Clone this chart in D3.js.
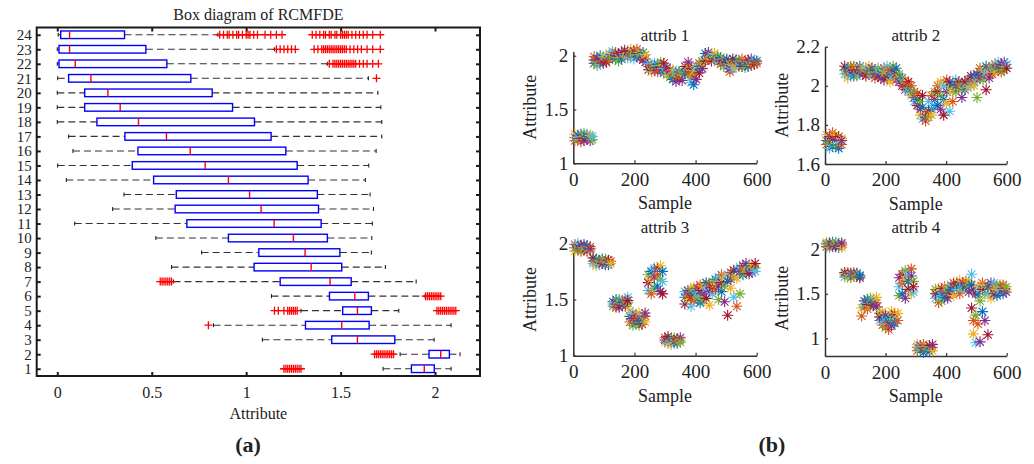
<!DOCTYPE html>
<html>
<head>
<meta charset="utf-8">
<script src="https://cdn.jsdelivr.net/npm/d3@7/dist/d3.min.js"></script>
<style>
    body { margin: 0; background: #fff; }
    svg text { font-family: "Liberation Serif", "Times New Roman", serif; fill: #222; }
</style>
</head>
<body>
<div id="chart"></div>
<script>
// ---------- (a) box diagram data, rows 1..24 ----------
const rowLabels = d3.range(1, 25);
const whiskerLow = [1.725, 1.815, 1.086, 0.827, 1.29, 1.134, 0.615, 0.605, 0.764, 0.522, 0.092, 0.293,
                    0.353, 0.048, 0.002, 0.083, 0.06, 0.0, 0.0, 0.0, 0.002, 0.0, 0.0, 0.005];
const quart1 = [1.875, 1.968, 1.453, 1.314, 1.511, 1.441, 1.18, 1.042, 1.067, 0.906, 0.686, 0.624,
                0.63, 0.51, 0.397, 0.427, 0.358, 0.21, 0.145, 0.145, 0.06, 0.009, 0.009, 0.018];
const medians = [1.943, 2.03, 1.589, 1.506, 1.589, 1.575, 1.444, 1.344, 1.312, 1.25, 1.148, 1.079,
                 1.018, 0.906, 0.783, 0.704, 0.578, 0.43, 0.333, 0.268, 0.178, 0.095, 0.065, 0.065];
const quart3 = [1.996, 2.076, 1.787, 1.651, 1.663, 1.647, 1.556, 1.506, 1.496, 1.43, 1.397, 1.383,
                1.377, 1.328, 1.27, 1.21, 1.132, 1.044, 0.928, 0.82, 0.707, 0.58, 0.469, 0.356];
const whiskerHigh = [2.085, 2.132, 1.995, 2.085, 1.808, 1.947, 1.9, 1.737, 1.663, 1.665, 1.668, 1.674,
                     1.656, 1.631, 1.649, 1.688, 1.718, 1.718, 1.713, 1.697, 1.647, 1.43, 1.15, 0.85];
const outliers = [
    [1.2, 1.21, 1.22, 1.23, 1.24, 1.25, 1.26, 1.27, 1.28, 1.29],
    [1.68, 1.69, 1.7, 1.71, 1.72, 1.73, 1.74, 1.75, 1.76, 1.77, 1.78],
    [],
    [0.8],
    [1.15, 1.17, 1.2, 1.22, 1.23, 1.24, 1.25, 1.26, 1.27, 2.01, 2.02, 2.03, 2.04, 2.05, 2.06, 2.07, 2.08, 2.09, 2.1, 2.11],
    [1.95, 1.96, 1.97, 1.98, 1.99, 2.0, 2.01, 2.02, 2.03],
    [0.545, 0.555, 0.565, 0.575, 0.585, 0.595, 0.605],
    [], [], [], [], [], [], [], [], [], [], [], [], [],
    [1.69],
    [1.44, 1.46, 1.47, 1.48, 1.49, 1.5, 1.51, 1.52, 1.53, 1.54, 1.55, 1.56, 1.57, 1.58, 1.6, 1.62, 1.64, 1.67, 1.7],
    [1.16, 1.18, 1.2, 1.22, 1.24, 1.26, 1.36, 1.38, 1.4, 1.41, 1.42, 1.43, 1.44, 1.45, 1.46, 1.47, 1.48, 1.49,
     1.5, 1.51, 1.52, 1.53, 1.55, 1.57, 1.59, 1.61, 1.64, 1.67, 1.71],
    [0.86, 0.88, 0.9, 0.91, 0.93, 0.95, 0.96, 0.98, 1.0, 1.01, 1.02, 1.04, 1.06, 1.1, 1.13, 1.16, 1.19,
     1.35, 1.37, 1.39, 1.41, 1.42, 1.44, 1.45, 1.47, 1.48, 1.5, 1.51, 1.52, 1.53, 1.54, 1.56, 1.58, 1.6,
     1.62, 1.64, 1.67, 1.71]
];
const boxXTicks = [0, 0.5, 1, 1.5, 2];

// ---------- (b) attribute scatter data: [sample, value, value, ...] ----------
const attrib1Pts = [
    [5, 1.24, 1.21, 1.27], [15, 1.26, 1.22, 1.24], [25, 1.23, 1.27, 1.2], [35, 1.25, 1.21, 1.28], [45, 1.27, 1.23, 1.25],
    [55, 1.24, 1.26, 1.21], [62, 1.22, 1.25],
    [68, 1.96, 1.93, 1.99], [78, 1.94, 1.97, 1.91], [88, 1.92, 1.96, 2.0], [98, 1.95, 1.99, 1.93], [108, 1.97, 2.0, 1.94],
    [118, 1.99, 1.96, 2.02], [128, 2.01, 1.98, 2.04], [138, 2.0, 1.97, 2.03], [148, 1.98, 2.02, 1.95], [158, 2.0, 2.03, 1.97],
    [168, 1.99, 2.02, 2.05], [178, 2.01, 1.98, 2.04], [188, 2.03, 2.0, 2.06], [198, 2.04, 2.01, 1.97], [208, 2.02, 1.99, 2.06],
    [218, 2.03, 1.98, 2.01], [228, 2.0, 1.96, 2.03], [236, 1.97, 2.01, 1.94],
    [246, 1.9, 1.93, 1.87], [256, 1.88, 1.91, 1.85], [266, 1.86, 1.9, 1.93], [276, 1.89, 1.92, 1.85], [286, 1.91, 1.87, 1.94],
    [296, 1.88, 1.93, 1.84], [306, 1.85, 1.82, 1.89], [316, 1.8, 1.84, 1.87], [326, 1.78, 1.83, 1.87], [336, 1.76, 1.81, 1.85],
    [346, 1.79, 1.85, 1.82], [356, 1.82, 1.77, 1.86], [366, 1.87, 1.9, 1.83], [376, 1.84, 1.91, 1.94], [386, 1.8, 1.75, 1.88],
    [394, 1.73, 1.82, 1.86], [402, 1.78, 1.86, 1.9], [412, 1.84, 1.9, 1.93], [422, 1.92, 1.88, 1.95], [432, 1.99, 1.95, 2.02],
    [442, 2.01, 1.97, 2.03], [452, 1.98, 2.0, 1.95], [462, 2.0, 1.96, 2.02], [472, 1.97, 1.99, 1.94], [482, 1.95, 1.98, 1.92],
    [492, 1.97, 1.93, 1.9], [502, 1.9, 1.94, 1.97], [512, 1.85, 1.92, 1.88], [522, 1.94, 1.88, 1.97], [532, 1.96, 1.92, 1.89],
    [542, 1.93, 1.95, 1.9], [552, 1.9, 1.94, 1.97], [562, 1.95, 1.92, 1.89], [572, 1.93, 1.96, 1.9], [582, 1.91, 1.94, 1.97],
    [592, 1.94, 1.96, 1.92], [600, 1.95, 1.93]
];
const attrib2Pts = [
    [5, 1.72, 1.7, 1.75], [15, 1.74, 1.71, 1.68], [25, 1.73, 1.69, 1.76], [35, 1.75, 1.72, 1.69], [45, 1.71, 1.74, 1.68],
    [55, 1.7, 1.73, 1.72],
    [65, 2.08, 2.06, 2.1], [75, 2.09, 2.06, 2.04], [85, 2.07, 2.1, 2.05], [95, 2.08, 2.05, 2.1], [105, 2.09, 2.07, 2.05],
    [115, 2.06, 2.08, 2.1], [125, 2.08, 2.09, 2.06], [135, 2.07, 2.09, 2.05], [145, 2.08, 2.06, 2.1], [155, 2.09, 2.07, 2.05],
    [165, 2.06, 2.08, 2.04], [175, 2.07, 2.05, 2.09], [185, 2.08, 2.04, 2.06], [195, 2.09, 2.06, 2.03], [205, 2.07, 2.1, 2.04],
    [215, 2.05, 2.08, 2.02], [225, 2.08, 2.1, 2.05], [235, 2.06, 2.09, 2.03],
    [245, 2.04, 2.02, 2.06], [255, 2.02, 2.0, 2.04], [265, 2.0, 2.03, 1.98], [275, 1.99, 1.97, 2.02], [285, 1.97, 2.0, 1.95],
    [295, 1.94, 1.97, 1.92], [305, 1.9, 1.93, 1.96], [315, 1.85, 1.88, 1.92], [322, 1.83, 1.95, 1.89], [332, 1.82, 1.86, 1.84],
    [342, 1.84, 1.92, 1.87], [352, 1.88, 1.95, 1.85], [362, 1.93, 1.97, 1.9], [372, 1.97, 1.9, 2.0], [382, 2.02, 1.88, 1.95],
    [392, 2.0, 1.85, 1.93], [402, 2.03, 1.91, 1.97], [412, 1.99, 1.87, 2.02], [422, 2.01, 1.92, 1.97], [432, 2.0, 1.97, 2.03],
    [442, 2.02, 1.99, 2.0], [452, 1.98, 1.94, 2.01], [462, 2.0, 2.02, 1.98], [472, 2.01, 1.99, 2.03], [482, 2.03, 2.0, 2.05],
    [492, 2.05, 2.02, 2.0], [502, 2.06, 1.94, 2.03], [512, 2.04, 2.07, 2.09], [522, 2.08, 2.05, 2.03], [532, 2.07, 1.98, 2.1],
    [542, 2.09, 2.06, 2.04], [552, 2.1, 2.08, 2.06], [562, 2.09, 2.11, 2.07], [572, 2.1, 2.08, 2.12], [582, 2.11, 2.09, 2.07],
    [592, 2.1, 2.12, 2.08], [600, 2.11, 2.09]
];
const attrib3Pts = [
    [5, 1.96, 1.99, 1.93], [15, 1.97, 1.94, 2.0], [25, 1.98, 1.95, 1.93], [35, 1.96, 1.99, 1.94], [45, 1.95, 1.93, 1.98],
    [55, 1.97, 1.93, 1.95],
    [65, 1.84, 1.82, 1.87], [75, 1.86, 1.83, 1.8], [85, 1.83, 1.85, 1.81], [95, 1.82, 1.86, 1.84], [105, 1.84, 1.81, 1.86],
    [115, 1.83, 1.85, 1.81], [122, 1.84, 1.82],
    [130, 1.48, 1.44, 1.46], [140, 1.46, 1.5, 1.43], [150, 1.47, 1.43, 1.5], [160, 1.49, 1.45, 1.47], [170, 1.5, 1.46, 1.44],
    [178, 1.47, 1.52, 1.49],
    [185, 1.35, 1.3, 1.4], [195, 1.33, 1.27, 1.38], [205, 1.36, 1.29, 1.32], [215, 1.38, 1.31, 1.27], [225, 1.34, 1.28, 1.31],
    [235, 1.35, 1.3, 1.38],
    [245, 1.72, 1.58, 1.65], [255, 1.75, 1.55, 1.68], [265, 1.7, 1.6, 1.78], [275, 1.78, 1.62, 1.72], [285, 1.8, 1.57, 1.68],
    [292, 1.66, 1.55, 1.75],
    [300, 1.16, 1.12, 1.14], [310, 1.14, 1.11, 1.17], [320, 1.15, 1.12, 1.1], [330, 1.13, 1.16, 1.11], [340, 1.15, 1.11, 1.13],
    [350, 1.14, 1.16, 1.12],
    [365, 1.57, 1.46, 1.52], [375, 1.54, 1.5, 1.58], [385, 1.59, 1.44, 1.52], [395, 1.56, 1.49, 1.61], [405, 1.6, 1.52, 1.56],
    [415, 1.58, 1.47, 1.63], [425, 1.62, 1.55, 1.5], [435, 1.6, 1.51, 1.65], [445, 1.64, 1.45, 1.57], [455, 1.66, 1.55, 1.61],
    [465, 1.68, 1.59, 1.64], [475, 1.62, 1.5, 1.7], [485, 1.65, 1.57, 1.72], [495, 1.7, 1.48, 1.62], [505, 1.72, 1.36, 1.66],
    [515, 1.74, 1.6, 1.68], [525, 1.7, 1.52, 1.76], [535, 1.76, 1.44, 1.69], [545, 1.75, 1.55, 1.79], [555, 1.8, 1.72, 1.76],
    [565, 1.78, 1.82, 1.74], [575, 1.76, 1.73, 1.8], [585, 1.79, 1.81, 1.74], [595, 1.78, 1.75, 1.82]
];
const attrib4Pts = [
    [5, 2.06, 2.03, 2.08], [15, 2.07, 2.04, 2.02], [25, 2.05, 2.08, 2.03], [35, 2.06, 2.03, 2.08], [45, 2.07, 2.04, 2.02],
    [55, 2.05, 2.02, 2.07],
    [65, 1.72, 1.69, 1.74], [75, 1.71, 1.74, 1.68], [85, 1.73, 1.68, 1.71], [95, 1.7, 1.72, 1.74], [105, 1.69, 1.73, 1.71],
    [115, 1.71, 1.68, 1.7],
    [121, 1.25, 1.34], [130, 1.42, 1.35, 1.38], [140, 1.38, 1.44, 1.33], [150, 1.36, 1.41, 1.45], [160, 1.43, 1.37, 1.4],
    [170, 1.4, 1.46, 1.35],
    [180, 1.28, 1.2, 1.24], [190, 1.22, 1.15, 1.3], [200, 1.26, 1.12, 1.19], [210, 1.18, 1.24, 1.1], [220, 1.3, 1.14, 1.22],
    [230, 1.22, 1.27, 1.17], [240, 1.2, 1.28],
    [245, 1.68, 1.48, 1.58], [255, 1.72, 1.5, 1.62], [265, 1.66, 1.45, 1.76], [275, 1.74, 1.55, 1.64], [285, 1.78, 1.5, 1.7],
    [292, 1.64, 1.52, 1.58],
    [305, 0.9, 0.86, 0.93], [315, 0.92, 0.87, 0.89], [325, 0.89, 0.84, 0.93], [335, 0.91, 0.86, 0.88], [345, 0.88, 0.92, 0.85],
    [355, 0.9, 0.86, 0.93],
    [365, 1.55, 1.45, 1.5], [375, 1.5, 1.4, 1.56], [385, 1.56, 1.42, 1.48], [395, 1.52, 1.46, 1.58], [405, 1.58, 1.45, 1.53],
    [415, 1.6, 1.5, 1.55], [425, 1.62, 1.48, 1.57], [435, 1.58, 1.55, 1.62], [445, 1.6, 1.5, 1.65], [455, 1.62, 1.56, 1.58],
    [465, 1.6, 1.58, 1.64], [475, 1.64, 1.52, 1.6], [484, 1.72, 1.34, 1.6], [490, 1.2, 1.05, 1.55], [498, 1.26, 0.95, 1.5],
    [505, 1.5, 1.16, 1.58], [512, 0.96, 1.42, 1.55], [520, 1.55, 1.3, 1.62], [528, 1.6, 1.2, 1.5], [538, 1.5, 1.04, 1.58],
    [548, 1.58, 1.45, 1.62], [558, 1.55, 1.62, 1.5], [568, 1.48, 1.58, 1.55], [578, 1.52, 1.6, 1.55], [588, 1.56, 1.5, 1.6],
    [598, 1.55, 1.52, 1.58]
];
const sampleTicks = [0, 200, 400, 600];

// MATLAB default line colours
const matlabColors = ["#0072BD", "#D95319", "#EDB120", "#7E2F8E", "#77AC30", "#4DBEEE", "#A2142F"];

const WIDTH = 1034, HEIGHT = 464;
const svg = d3.select("#chart").append("svg")
    .attr("width", WIDTH)
    .attr("height", HEIGHT);
svg.append("rect").attr("width", WIDTH).attr("height", HEIGHT).attr("fill", "#fff");


class BoxDiagram {
    constructor(svg) {
        this.svg = svg;
        this.initVis();
    }

    initVis() {
        const vis = this;
        vis.LEFT = 36.7; vis.RIGHT = 480; vis.TOP = 27.5; vis.BOTTOM = 376;

        vis.x = d3.scaleLinear().domain([-0.109, 2.238]).range([vis.LEFT, vis.RIGHT]);
        vis.y = d3.scaleLinear().domain([0.5, 24.5]).range([vis.BOTTOM, vis.TOP]);

        vis.g = vis.svg.append("g").attr("class", "box-diagram");

        // Axes (ticks inside, like MATLAB)
        const bottom = vis.g.append("g")
            .attr("transform", `translate(0, ${vis.BOTTOM})`)
            .call(d3.axisBottom(vis.x).tickValues(boxXTicks).tickSize(-4).tickPadding(11).tickFormat(d => d));
        const top = vis.g.append("g")
            .attr("transform", `translate(0, ${vis.TOP})`)
            .call(d3.axisTop(vis.x).tickValues(boxXTicks).tickSize(-4).tickFormat(""));
        const left = vis.g.append("g")
            .attr("transform", `translate(${vis.LEFT}, 0)`)
            .call(d3.axisLeft(vis.y).tickValues(rowLabels).tickSize(-4).tickPadding(5).tickFormat(d => d));
        const right = vis.g.append("g")
            .attr("transform", `translate(${vis.RIGHT}, 0)`)
            .call(d3.axisRight(vis.y).tickValues(rowLabels).tickSize(-4).tickFormat(""));

        [bottom, top, left, right].forEach(a => {
            a.select(".domain").remove();
            a.selectAll(".tick line").attr("stroke", "#1a1a1a").attr("stroke-width", 2);
            a.selectAll("text").style("font-size", "16px").attr("fill", "#222")
                .style("font-family", "'Liberation Serif', serif");
        });
        left.selectAll("text").style("font-size", "15px");

        vis.g.append("rect")
            .attr("x", vis.LEFT).attr("y", vis.TOP)
            .attr("width", vis.RIGHT - vis.LEFT).attr("height", vis.BOTTOM - vis.TOP)
            .attr("fill", "none").attr("stroke", "#1a1a1a").attr("stroke-width", 2);

        // Title and axis label
        vis.g.append("text")
            .attr("text-anchor", "middle")
            .attr("x", (vis.LEFT + vis.RIGHT) / 2).attr("y", 20)
            .style("font-size", "16px")
            .text("Box diagram of RCMFDE");

        vis.g.append("text")
            .attr("text-anchor", "middle")
            .attr("x", (vis.LEFT + vis.RIGHT) / 2).attr("y", 419)
            .style("font-size", "16px")
            .text("Attribute");

        vis.updateVis();
    }

    updateVis() {
        const vis = this;
        const rows = rowLabels.map((r, i) => ({
            row: r, lo: whiskerLow[i], q1: quart1[i], med: medians[i], q3: quart3[i], hi: whiskerHigh[i], out: outliers[i]
        }));
        const H = 3.8;

        const rowG = vis.g.selectAll(".row").data(rows).enter().append("g")
            .attr("class", "row")
            .attr("transform", d => `translate(0, ${vis.y(d.row)})`);

        // whiskers
        rowG.append("line")
            .attr("x1", d => vis.x(d.lo)).attr("x2", d => vis.x(d.q1))
            .attr("stroke", "#333").attr("stroke-width", 1.1).attr("stroke-dasharray", "7,4");
        rowG.append("line")
            .attr("x1", d => vis.x(d.q3)).attr("x2", d => vis.x(d.hi))
            .attr("stroke", "#333").attr("stroke-width", 1.1).attr("stroke-dasharray", "7,4");
        rowG.selectAll(".cap").data(d => [d.lo, d.hi]).enter().append("line")
            .attr("x1", v => vis.x(v)).attr("x2", v => vis.x(v))
            .attr("y1", -2).attr("y2", 2)
            .attr("stroke", "#222").attr("stroke-width", 1.1);

        // boxes
        rowG.append("rect")
            .attr("x", d => vis.x(d.q1)).attr("y", -H)
            .attr("width", d => vis.x(d.q3) - vis.x(d.q1)).attr("height", 2 * H)
            .attr("fill", "none").attr("stroke", "#0000ff").attr("stroke-width", 1.4);
        rowG.append("line")
            .attr("x1", d => vis.x(d.med)).attr("x2", d => vis.x(d.med))
            .attr("y1", -H).attr("y2", H)
            .attr("stroke", "#ff0000").attr("stroke-width", 1.4);

        // outliers
        rowG.selectAll(".out").data(d => d.out).enter().append("path")
            .attr("d", "M-4,0H4M0,-4V4")
            .attr("transform", v => `translate(${vis.x(v)}, 0)`)
            .attr("stroke", "#ff0000").attr("stroke-width", 1.3).attr("fill", "none");
    }
}


class AttribPanel {
    constructor(svg, cfg) {
        this.svg = svg;
        this.cfg = cfg;
        this.initVis();
    }

    initVis() {
        const vis = this;
        const c = vis.cfg;

        vis.x = d3.scaleLinear().domain([0, 600]).range([c.left, c.right]);
        vis.y = d3.scaleLinear().domain(c.yDomain).range([c.bottom, c.top]);
        vis.g = vis.svg.append("g").attr("class", "attrib-panel");

        const xAxis = vis.g.append("g")
            .attr("transform", `translate(0, ${c.bottom})`)
            .call(d3.axisBottom(vis.x).tickValues(sampleTicks).tickSize(-3).tickSizeOuter(0).tickPadding(9));
        const yAxis = vis.g.append("g")
            .attr("transform", `translate(${c.left}, 0)`)
            .call(d3.axisLeft(vis.y).tickValues(c.yTicks).tickSize(-3).tickSizeOuter(0).tickPadding(5).tickFormat(d => d));

        [xAxis, yAxis].forEach(a => {
            a.select(".domain").attr("stroke", "#333").attr("stroke-width", 1.5);
            a.selectAll(".tick line").attr("stroke", "#333").attr("stroke-width", 1.2);
            a.selectAll("text").style("font-size", "19px").attr("fill", "#222")
                .style("font-family", "'Liberation Serif', serif");
        });

        vis.g.append("text")
            .attr("text-anchor", "middle")
            .attr("x", (c.left + c.right) / 2).attr("y", c.titleY)
            .style("font-size", "17px")
            .text(c.title);

        vis.g.append("text")
            .attr("text-anchor", "middle")
            .attr("x", (c.left + c.right) / 2).attr("y", c.bottom + 46)
            .style("font-size", "18px")
            .text("Sample");

        vis.g.append("text")
            .attr("text-anchor", "middle")
            .attr("transform", `translate(${c.left - 37}, ${(c.bottom + c.top) / 2}) rotate(-90)`)
            .style("font-size", "18px")
            .text("Attribute");

        vis.updateVis();
    }

    updateVis() {
        const vis = this;
        const pts = [];
        vis.cfg.pts.forEach(row => row.slice(1).forEach(v => pts.push({ s: row[0], v: v })));

        const r = 5.5, k = r * 0.707;
        const star = `M${-r},0H${r}M0,${-r}V${r}M${-k},${-k}L${k},${k}M${-k},${k}L${k},${-k}`;

        vis.g.append("g").selectAll("path").data(pts).enter().append("path")
            .attr("d", star)
            .attr("transform", d => `translate(${vis.x(d.s)}, ${vis.y(d.v)})`)
            .attr("fill", "none")
            .attr("stroke", (d, i) => matlabColors[i % matlabColors.length])
            .attr("stroke-width", 1.1);
    }
}


new BoxDiagram(svg);

const panelCfgs = [
    { title: "attrib 1", pts: attrib1Pts, yDomain: [1, 2.04], yTicks: [1, 1.5, 2],
      left: 573.3, right: 756.7, bottom: 163.3, top: 51.4, titleY: 41 },
    { title: "attrib 2", pts: attrib2Pts, yDomain: [1.6, 2.2], yTicks: [1.6, 1.8, 2, 2.2],
      left: 825, right: 1006.7, bottom: 164, top: 46.7, titleY: 41 },
    { title: "attrib 3", pts: attrib3Pts, yDomain: [1, 2], yTicks: [1, 1.5, 2],
      left: 573.3, right: 756.7, bottom: 355.7, top: 243.3, titleY: 233 },
    { title: "attrib 4", pts: attrib4Pts, yDomain: [0.8, 2.1], yTicks: [1, 1.5, 2],
      left: 825, right: 1006.7, bottom: 356.1, top: 240.4, titleY: 233 }
];
panelCfgs.forEach(cfg => new AttribPanel(svg, cfg));

// sub-figure captions
svg.append("text").attr("text-anchor", "middle").attr("x", 248).attr("y", 452)
    .style("font-size", "22px").style("font-weight", "bold").text("(a)");
svg.append("text").attr("text-anchor", "middle").attr("x", 772).attr("y", 452)
    .style("font-size", "22px").style("font-weight", "bold").text("(b)");
</script>
</body>
</html>
